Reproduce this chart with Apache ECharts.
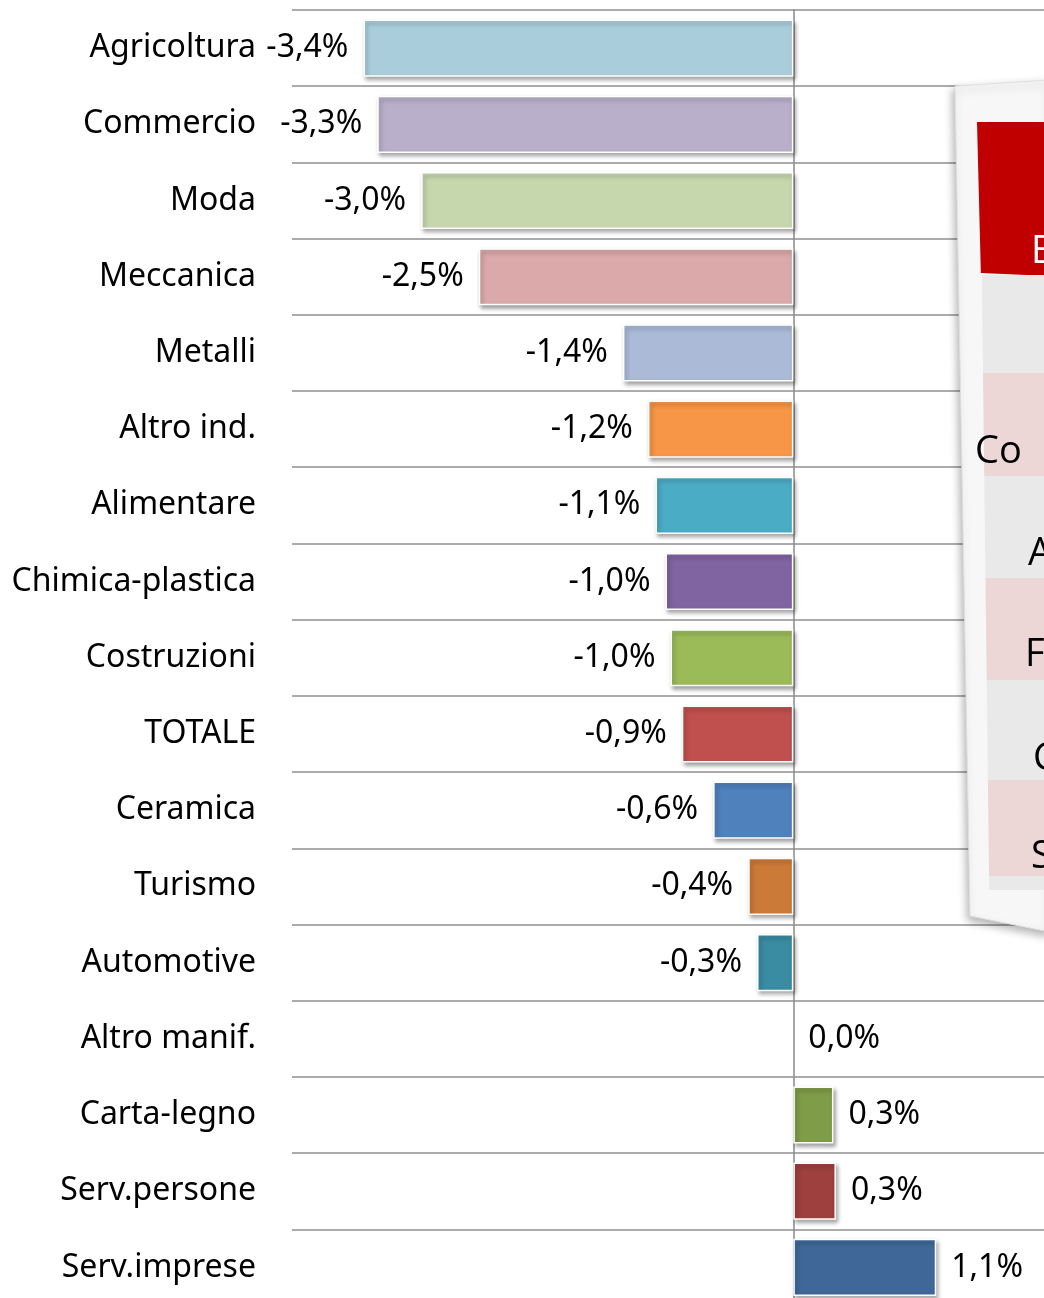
<!DOCTYPE html>
<html><head><meta charset="utf-8">
<script src="https://cdn.jsdelivr.net/npm/echarts@6/dist/echarts.min.js"></script>
<style>html,body{margin:0;padding:0;background:#fff;overflow:hidden;}#c{width:1044px;height:1330px;}</style>
</head><body><div id="c"></div>
<script>
const categories = ["Agricoltura","Commercio","Moda","Meccanica","Metalli","Altro ind.","Alimentare","Chimica-plastica","Costruzioni","TOTALE","Ceramica","Turismo","Automotive","Altro manif.","Carta-legno","Serv.persone","Serv.imprese"];
const values = [-3.43,-3.32,-2.97,-2.51,-1.36,-1.16,-1.10,-1.02,-0.98,-0.89,-0.64,-0.36,-0.29,0.0,0.32,0.34,1.14];
const colors = ["#AACDDC","#B9AFCB","#C6D7AD","#DBA9A9","#AABAD7","#F79646","#4BACC6","#8064A2","#9BBB59","#C0504D","#4F81BD","#CC7A38","#3A8CA3","transparent","#7F9C48","#9E403D","#3F6898"];
const tableRowLabels = ["B","Co","A","F","C","S"];

const chart = echarts.init(document.getElementById('c'));
const FONT = '"Noto Sans", sans-serif';
const fmt = v => (v < 0 ? '-' : '') + Math.abs(v).toFixed(1).replace('.', ',') + '%';

const rows = [
  {y0:275,y1:373,c:'#e9e9e9'},
  {y0:373,y1:476,c:'#ecd6d6'},
  {y0:476,y1:578,c:'#e9e9e9'},
  {y0:578,y1:680,c:'#ecd6d6'},
  {y0:680,y1:780,c:'#e9e9e9'},
  {y0:780,y1:876,c:'#ecd6d6'},
  {y0:876,y1:890,c:'#e9e9e9'}
];
function xl(y){ return 980 + (y-122)*0.012; }
const graphics = [
  {type:'polygon', z:100, shape:{points:[[955,86],[1050,80],[1050,932],[970,916]]},
   style:{fill:'#f7f7f7', stroke:'#e0e0e0', lineWidth:1, shadowBlur:8, shadowOffsetX:-2, shadowOffsetY:4, shadowColor:'rgba(0,0,0,0.3)'}},
  {type:'polygon', z:101, shape:{points:[[977,122],[1050,122],[1050,276],[xl(276)-1,273]]},
   style:{fill:'#C00000'}}
];
rows.forEach(r=>{
  graphics.push({type:'polygon', z:101, shape:{points:[[xl(r.y0),r.y0],[1050,r.y0],[1050,r.y1],[xl(r.y1),r.y1]]}, style:{fill:r.c}});
});
const txtPos = [[1031,252,'#fff'],[975,452,'#000'],[1028,554,'#000'],[1025,655,'#000'],[1033,759,'#000'],[1031,857,'#000']];
tableRowLabels.forEach((t,i)=>{
  graphics.push({type:'text', z:102, x:txtPos[i][0], y:txtPos[i][1],
    style:{text:t, fill:txtPos[i][2], font:'38px "Open Sans", sans-serif', verticalAlign:'middle', align:'left'}});
});

chart.setOption({
  animation:false,
  backgroundColor:'#fff',
  grid:{left:292, right:0, top:10, height:1295.5, containLabel:false},
  xAxis:{type:'value', min:-4, max:2, show:false, splitLine:{show:false}},
  yAxis:{type:'category', inverse:true, data:categories,
    axisLine:{show:true, onZero:true, lineStyle:{color:'#8a8a8a', width:1.5}},
    axisTick:{show:false},
    axisLabel:{color:'#000', fontSize:32, fontFamily:FONT, margin:36},
    splitLine:{show:true, lineStyle:{color:'#8f8f8f', width:1.5}}
  },
  series:[{
    type:'bar', barWidth:'75%',
    data: values.map((v,i)=>({value:v,
      itemStyle: v === 0 ? {color:'transparent', borderWidth:0, shadowBlur:0, shadowColor:'transparent'} : {color: colors[i]},
      label:{position: v < 0 ? 'left' : 'right'}})),
    itemStyle:{borderColor:'#fff', borderWidth:1.5, shadowBlur:4, shadowOffsetX:2, shadowOffsetY:3, shadowColor:'rgba(0,0,0,0.35)'},
    label:{show:true, distance:15, color:'#000', fontSize:32, fontFamily:FONT, formatter:p=>fmt(p.value)}
  }],
  graphic: graphics
});
</script></body></html>
